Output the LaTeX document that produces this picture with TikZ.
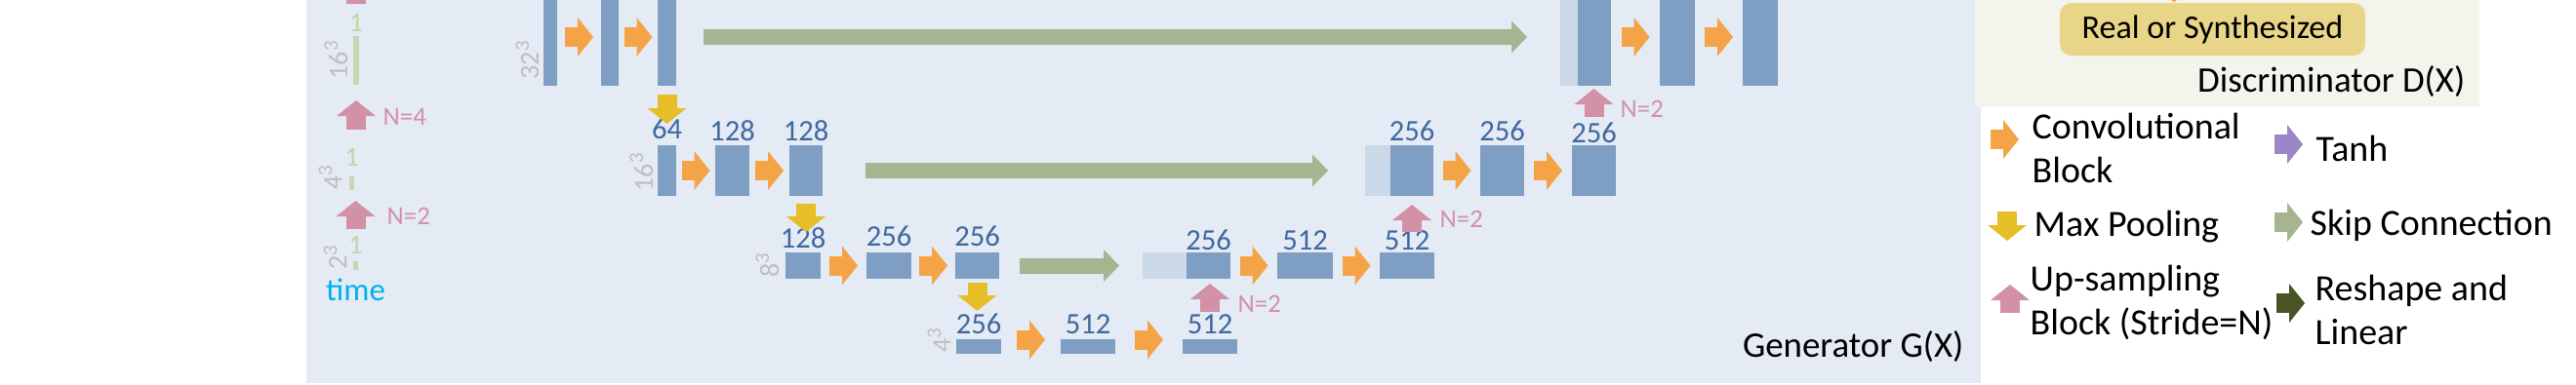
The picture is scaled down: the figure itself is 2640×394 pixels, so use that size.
\documentclass[tikz,border=0pt]{standalone}
\usepackage{fontspec}
\setmainfont{Carlito}
\usepackage{tikz}
\usetikzlibrary{arrows.meta,positioning,calc}
\definecolor{GenBg}{HTML}{E4EBF4}
\definecolor{DiscBg}{HTML}{F3F4EC}
\definecolor{BarBlue}{HTML}{7F9EC3}
\definecolor{BarPale}{HTML}{CAD8E8}
\definecolor{ConvOrange}{HTML}{F4A446}
\definecolor{PoolGold}{HTML}{E6BE28}
\definecolor{SkipGreen}{HTML}{A6B491}
\definecolor{UpPink}{HTML}{D291A6}
\definecolor{TanhPurple}{HTML}{9B87C5}
\definecolor{LinGreen}{HTML}{495426}
\definecolor{NumBlue}{HTML}{4068A0}
\definecolor{DimGray}{HTML}{BFBFBF}
\definecolor{TimeGreen}{HTML}{C8D6B4}
\definecolor{OneGreen}{HTML}{C4D4A8}
\definecolor{TimeBlue}{HTML}{00B0F0}
\definecolor{RealGold}{HTML}{E8D588}

\begin{document}
\begin{tikzpicture}[
    x=0.1mm, y=-0.1mm,
    fmap/.style={rectangle, fill=BarBlue, inner sep=0pt, outer sep=0pt},
    pale/.style={fmap, fill=BarPale},
    tbar/.style={fmap, fill=TimeGreen},
    row1/.style={minimum height=10mm},
    row2/.style={minimum height=5.2mm},
    row3/.style={minimum height=2.7mm},
    row4/.style={minimum height=1.5mm},
    num/.style={font=\fontsize{8.7}{10}\selectfont, text=NumBlue, inner sep=0pt},
    dimlab/.style={font=\fontsize{8}{9}\selectfont, text=DimGray, inner sep=0pt, rotate=90, anchor=south west},
    one/.style={font=\fontsize{8}{9}\selectfont, text=OneGreen, inner sep=0pt},
    nlab/.style={font=\fontsize{7.6}{9}\selectfont, text=UpPink, inner sep=0pt, anchor=base west},
    lgd/.style={font=\fontsize{10.8}{12.7}\selectfont, inner sep=0pt, align=left, anchor=base west},
    ttl/.style={font=\fontsize{10.5}{12}\selectfont, inner sep=0pt, anchor=base east},
    realbox/.style={fill=RealGold, rounded corners=1.2mm, minimum width=31.3mm, minimum height=5.4mm, inner sep=0pt, font=\fontsize{9.7}{11}\selectfont},
    blk/.style={line width=2mm, -{Triangle[length=1.6mm, width=4mm, line width=0pt]}},
    conv/.style={blk, draw=ConvOrange},
    pool/.style={blk, draw=PoolGold},
    upsm/.style={blk, draw=UpPink},
    skipc/.style={line width=1.6mm, draw=SkipGreen, -{Triangle[length=1.6mm, width=3.3mm, line width=0pt]}}
]
\useasboundingbox (0,0) rectangle (2640,394);
\clip (0,0) rectangle (2640,394);
\fill[white] (0,0) rectangle (2640,394);
% panels
\fill[GenBg] (314,-20) rectangle (2030,393);
\fill[DiscBg] (2024,-20) rectangle (2541,110);

% time branch
\node[tbar, minimum width=0.6mm, minimum height=5mm] (t16) at (365,62) {};
\node[tbar, minimum width=0.5mm, minimum height=1.4mm] (t4) at (360.5,188) {};
\node[tbar, minimum width=0.5mm, minimum height=0.9mm] (t2) at (364.5,272.5) {};
\coordinate (t32) at (365,-80);
\node[one, above=0.4mm of t16] (t16-c) {1};
\node[one, above=1mm of t4] (t4-c) {1};
\node[one, above=0.7mm of t2] (t2-c) {1};
\node[dimlab] (t16-d) at ([shift={(-0.5mm,0.5mm)}]t16.south west) {16\textsuperscript{3}};
\node[dimlab] (t4-d) at ([shift={(-0.7mm,0mm)}]t4.south west) {4\textsuperscript{3}};
\node[dimlab] (t2-d) at ([shift={(-0.6mm,0mm)}]t2.south west) {2\textsuperscript{3}};
\node[font=\fontsize{9.3}{11}\selectfont, text=TimeBlue, inner sep=0pt, below=0.8mm of t2] (time) {time};

% encoder
\node[fmap, row1, minimum width=1.4mm] (r1a) at (564,38) {};
\node[fmap, row1, minimum width=1.8mm, right=4.5mm of r1a] (r1b) {};
\node[fmap, row1, minimum width=1.9mm, right=4mm of r1b] (r1c) {};
\node[fmap, row2, minimum width=1.9mm] (r2a) at (683.5,175) {};
\node[fmap, row2, minimum width=3.5mm, right=4mm of r2a] (r2b) {};
\node[fmap, row2, minimum width=3.4mm, right=4.1mm of r2b] (r2c) {};
\node[fmap, row3, minimum width=3.6mm] (r3a) at (823,272.5) {};
\node[fmap, row3, minimum width=4.6mm, right=4.7mm of r3a] (r3b) {};
\node[fmap, row3, minimum width=4.5mm, right=4.5mm of r3b] (r3c) {};
\node[fmap, row4, minimum width=4.6mm] (r4a) at (1003,355.5) {};
\node[fmap, row4, minimum width=5.6mm, right=6.1mm of r4a] (r4b) {};
\node[fmap, row4, minimum width=5.6mm, right=6.9mm of r4b] (r4c) {};

% decoder
\node[pale, row3, minimum width=4.5mm] (d3p) at (1193.5,272.5) {};
\node[fmap, row3, minimum width=4.5mm, right=0mm of d3p] (d3a) {};
\node[fmap, row3, minimum width=5.7mm, right=4.8mm of d3a] (d3b) {};
\node[fmap, row3, minimum width=5.6mm, right=4.8mm of d3b] (d3c) {};
\node[pale, row2, minimum width=2.6mm] (d2p) at (1412,175) {};
\node[fmap, row2, minimum width=4.4mm, right=0mm of d2p] (d2a) {};
\node[fmap, row2, minimum width=4.5mm, right=4.8mm of d2a] (d2b) {};
\node[fmap, row2, minimum width=4.5mm, right=4.9mm of d2b] (d2c) {};
\node[pale, row1, minimum width=1.8mm] (d1p) at (1608,38) {};
\node[fmap, row1, minimum width=3.4mm, right=0mm of d1p] (d1a) {};
\node[fmap, row1, minimum width=3.6mm, right=5mm of d1a] (d1b) {};
\node[fmap, row1, minimum width=3.6mm, right=4.9mm of d1b] (d1c) {};

% channels
\node[num, above=0.6mm of r2a] (r2a-n) {64};
\node[num, above=0.4mm of r2b] (r2b-n) {128};
\node[num, above=0.4mm of r2c] (r2c-n) {128};
\node[num, above=0.4mm of r3a] (r3a-n) {128};
\node[num, above=0.6mm of r3b] (r3b-n) {256};
\node[num, above=0.6mm of r3c] (r3c-n) {256};
\node[num, above=0.5mm of r4a] (r4a-n) {256};
\node[num, above=0.5mm of r4b] (r4b-n) {512};
\node[num, above=0.5mm of r4c] (r4c-n) {512};
\node[num, above=0.2mm of d3a] (d3a-n) {256};
\node[num, above=0.2mm of d3b] (d3b-n) {512};
\node[num, above=0.15mm of d3c] (d3c-n) {512};
\node[num, above=0.4mm of d2a] (d2a-n) {256};
\node[num, above=0.4mm of d2b] (d2b-n) {256};
\node[num, above=0.15mm of d2c] (d2c-n) {256};

% sizes
\node[dimlab] (r1a-d) at ([shift={(-0.4mm,0.6mm)}]r1a.south west) {32\textsuperscript{3}};
\node[dimlab] (r2a-d) at ([shift={(-0.4mm,0.4mm)}]r2a.south west) {16\textsuperscript{3}};
\node[dimlab] (r3a-d) at ([shift={(-0.6mm,0.1mm)}]r3a.south west) {8\textsuperscript{3}};
\node[dimlab] (r4a-d) at ([shift={(-0.5mm,0.1mm)}]r4a.south west) {4\textsuperscript{3}};

% skip connections
\draw[skipc, shorten <=2.8mm, shorten >=3.4mm] (r1c) -- (d1p);
\draw[skipc, shorten <=4.4mm, shorten >=3.8mm] (r2c) -- (d2p);
\draw[skipc, shorten <=2.1mm, shorten >=2.4mm] (r3c) -- (d3p);

% convolutional blocks
\draw[conv] ($(r1a.east)!.5!(r1b.west)+(-14.5,0)$) -- ++(29,0);
\draw[conv] ($(r1b.east)!.5!(r1c.west)+(-14.5,0)$) -- ++(29,0);
\draw[conv] ($(r2a.east)!.5!(r2b.west)+(-14.5,0)$) -- ++(29,0);
\draw[conv] ($(r2b.east)!.5!(r2c.west)+(-14.5,0)$) -- ++(29,0);
\draw[conv] ($(r3a.east)!.5!(r3b.west)+(-14.5,0)$) -- ++(29,0);
\draw[conv] ($(r3b.east)!.5!(r3c.west)+(-14.5,0)$) -- ++(29,0);
\draw[conv] ($(r4a.east)!.5!(r4b.west)+(-14.5,-7)$) -- ++(29,0);
\draw[conv] ($(r4b.east)!.5!(r4c.west)+(-14.5,-7)$) -- ++(29,0);
\draw[conv] ($(d3a.east)!.5!(d3b.west)+(-14.5,0)$) -- ++(29,0);
\draw[conv] ($(d3b.east)!.5!(d3c.west)+(-14.5,0)$) -- ++(29,0);
\draw[conv] ($(d2a.east)!.5!(d2b.west)+(-14.5,0)$) -- ++(29,0);
\draw[conv] ($(d2b.east)!.5!(d2c.west)+(-14.5,0)$) -- ++(29,0);
\draw[conv] ($(d1a.east)!.5!(d1b.west)+(-14.5,0)$) -- ++(29,0);
\draw[conv] ($(d1b.east)!.5!(d1c.west)+(-14.5,0)$) -- ++(29,0);

% max pooling
\draw[pool, shorten <=0.9mm, shorten >=2.2mm] (r1c.south) -- (r1c.south |- r2a.north);
\draw[pool, shorten <=0.8mm, shorten >=2.1mm] (r2c.south) -- (r2c.south |- r3a.north);
\draw[pool, shorten <=0.4mm, shorten >=2.9mm] (r3c.south) -- (r3c.south |- r4a.north);

% up-sampling
\draw[upsm, shorten <=2.8mm, shorten >=0.5mm] (r4c.north) -- (r4c.north |- d3a.south);
\draw[upsm, shorten <=2.1mm, shorten >=0.9mm] (d2a.south |- d3c.north) -- (d2a.south);
\draw[upsm, shorten <=2.9mm, shorten >=0.3mm] (d2c.north) -- (d2c.north |- d1a.south);
\draw[upsm, shorten <=3.3mm, shorten >=1.1mm] (t2.north) -- (t2.north |- t4.south);
\draw[upsm, shorten <=4.8mm, shorten >=1.6mm] (t16.south |- t4.north) -- (t16.south);
\draw[upsm, shorten <=3.3mm] (t16.north) -- (t32);
\node[nlab] (n-t4) at (392,128) {N=4};
\node[nlab] (n-t2) at (396,230) {N=2};
\node[nlab] (n-d3) at (1268,320) {N=2};
\node[nlab] (n-d2) at (1475,233) {N=2};
\node[nlab] (n-d1) at (1660,120) {N=2};

% discriminator
\node[realbox] (real) at (2267.5,30) {Real or Synthesized};
\coordinate (dout) at (2228,-40);
\draw[conv] (dout) -- (dout |- real.north);
\node[ttl] (dtitle) at (2527,94) {Discriminator D(X)};
\node[ttl] (gtitle) at (2013,366) {Generator G(X)};

% legend
\coordinate (k-conv) at (2040,143);
\coordinate (k-tanh) at (2331,148);
\coordinate (k-pool) at (2057,217);
\coordinate (k-skip) at (2331,228);
\coordinate (k-up) at (2060,321);
\coordinate (k-lin) at (2333,311);
\draw[conv] (k-conv) -- ++(29,0);
\draw[blk, draw=TanhPurple] (k-tanh) -- ++(29,0);
\draw[pool] (k-pool) -- ++(0,30);
\draw[blk, draw=SkipGreen] (k-skip) -- ++(29,0);
\draw[upsm] (k-up) -- ++(0,-29);
\draw[blk, draw=LinGreen] (k-lin) -- ++(29,0);
\node[lgd] (l-conv) at (2082,187) {Convolutional\\Block};
\node[lgd] (l-tanh) at (2373,165) {Tanh};
\node[lgd] (l-pool) at (2084,242) {Max Pooling};
\node[lgd] (l-skip) at (2367,241) {Skip Connection};
\node[lgd] (l-up) at (2080,343) {Up-sampling\\Block (Stride=N)};
\node[lgd] (l-lin) at (2372,353) {Reshape and\\Linear};
\end{tikzpicture}
\end{document}
